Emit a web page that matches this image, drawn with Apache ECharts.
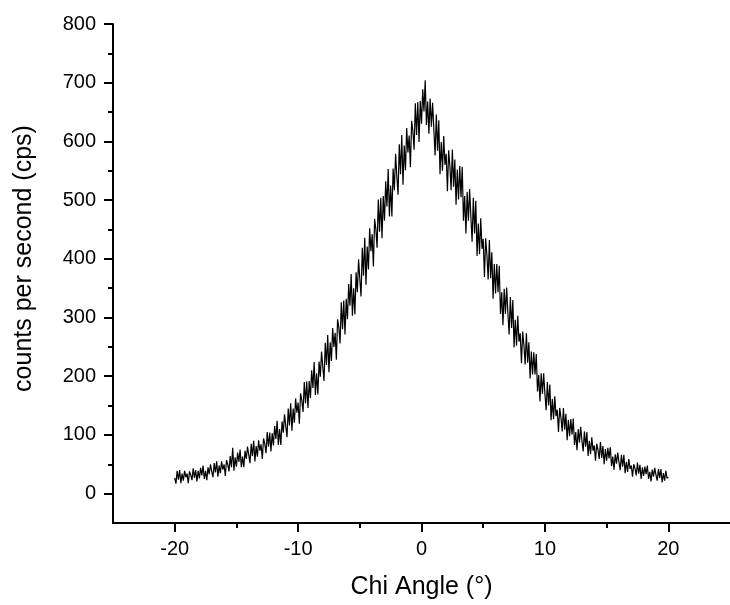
<!DOCTYPE html>
<html>
<head>
<meta charset="utf-8">
<script src="https://cdn.jsdelivr.net/npm/echarts@6/dist/echarts.min.js"></script>
<style>
html,body{margin:0;padding:0;background:#fff;}
#chart{width:730px;height:605px;}
</style>
</head>
<body>
<div id="chart"></div>
<script>
// Chi angle scan: first angle, step (degrees)
const angleStart = -20;
const angleStep = 0.1;
// counts per second, one row per degree (-20 ... 20)
const counts = [
  27, 17, 39, 24, 40, 18, 34, 22, 39, 28,
  34, 18, 38, 32, 23, 43, 27, 40, 21, 39,
  26, 44, 31, 48, 25, 39, 23, 45, 33, 50,
  38, 28, 52, 36, 55, 29, 48, 35, 55, 41,
  50, 30, 57, 50, 38, 64, 45, 78, 39, 62,
  46, 70, 54, 75, 45, 63, 45, 73, 59, 80,
  66, 52, 85, 64, 90, 55, 81, 63, 91, 73,
  84, 59, 94, 85, 69, 105, 80, 104, 72, 103,
  82, 115, 93, 124, 83, 110, 83, 123, 104, 135,
  115, 96, 145, 116, 154, 107, 145, 121, 162, 138,
  155, 119, 171, 159, 139, 190, 154, 191, 146, 192,
  163, 210, 180, 224, 168, 205, 169, 225, 199, 242,
  216, 192, 257, 219, 270, 207, 258, 226, 282, 250,
  274, 228, 297, 283, 256, 326, 280, 329, 271, 332,
  297, 357, 320, 374, 303, 350, 305, 377, 343, 399,
  366, 336, 419, 371, 436, 356, 421, 382, 452, 413,
  442, 387, 468, 451, 419, 501, 446, 504, 435, 507,
  465, 532, 489, 553, 472, 525, 472, 554, 517, 579,
  541, 509, 595, 544, 611, 526, 593, 551, 623, 581,
  610, 556, 635, 618, 586, 665, 611, 667, 599, 669,
  630, 689, 651, 704, 628, 668, 613, 673, 625, 666,
  620, 576, 646, 584, 636, 544, 599, 550, 609, 560,
  579, 515, 585, 558, 517, 586, 523, 569, 492, 552,
  501, 558, 505, 557, 465, 507, 443, 514, 465, 519,
  472, 429, 504, 443, 499, 405, 460, 408, 469, 417,
  434, 369, 435, 407, 365, 432, 367, 411, 332, 391,
  341, 391, 343, 388, 306, 343, 287, 349, 306, 351,
  308, 271, 335, 282, 330, 249, 296, 252, 303, 259,
  273, 222, 276, 253, 220, 273, 223, 258, 196, 242,
  203, 241, 203, 238, 174, 202, 157, 205, 170, 205,
  170, 142, 190, 150, 186, 125, 161, 127, 166, 132,
  143, 105, 146, 130, 106, 146, 109, 136, 91, 126,
  98, 127, 101, 128, 83, 105, 74, 110, 87, 114,
  90, 72, 106, 80, 105, 64, 90, 67, 96, 73,
  82, 56, 85, 75, 59, 88, 61, 81, 50, 76,
  56, 78, 60, 79, 47, 63, 41, 67, 51, 70,
  54, 40, 66, 46, 66, 35, 54, 37, 59, 42,
  48, 29, 50, 43, 31, 53, 34, 49, 25, 45,
  30, 46, 33, 48, 25, 37, 21, 41, 29, 44,
  32, 22, 42, 27, 42, 19, 35, 22, 39, 26,
  28
];
const xMajorTicks = [-20, -10, 0, 10, 20];
const xMinorTicks = [-15, -5, 5, 15];
const yMajorTicks = [0, 100, 200, 300, 400, 500, 600, 700, 800];
const yMinorTicks = [50, 150, 250, 350, 450, 550, 650, 750];

const seriesData = counts.map((c, i) => [+(angleStart + i * angleStep).toFixed(2), c]);

const FONT = '"Liberation Sans", Arial, sans-serif';
const chart = echarts.init(document.getElementById('chart'), null, {renderer: 'canvas'});
const lineStyle = {color: '#000', width: 2};
chart.setOption({
  animation: false,
  backgroundColor: '#fff',
  grid: {left: 113, top: 24, width: 622, height: 502, containLabel: false},
  xAxis: [{
    type: 'value', min: -25, max: 25, position: 'bottom',
    axisLine: {show: true, onZero: false, lineStyle: lineStyle},
    axisTick: {show: true, customValues: xMajorTicks, length: 9, lineStyle: lineStyle},
    axisLabel: {customValues: xMajorTicks, fontSize: 20, color: '#000', margin: 16, fontFamily: FONT},
    splitLine: {show: false},
    name: 'Chi Angle (°)', nameLocation: 'middle', nameGap: 52,
    nameTextStyle: {fontSize: 25, color: '#000', fontFamily: FONT}
  }, {
    type: 'value', min: -25, max: 25, position: 'bottom', offset: 0,
    axisLine: {show: false, onZero: false},
    axisTick: {show: true, customValues: xMinorTicks, length: 5, lineStyle: lineStyle},
    axisLabel: {show: false},
    splitLine: {show: false}
  }],
  yAxis: [{
    type: 'value', min: -50, max: 800, position: 'left',
    axisLine: {show: true, onZero: false, lineStyle: lineStyle},
    axisTick: {show: true, customValues: yMajorTicks, length: 9, lineStyle: lineStyle},
    axisLabel: {customValues: yMajorTicks, fontSize: 20, color: '#000', margin: 17, fontFamily: FONT},
    splitLine: {show: false},
    name: 'counts per second (cps)', nameLocation: 'middle', nameGap: 76,
    nameTextStyle: {fontSize: 25, color: '#000', fontFamily: FONT, padding: [0, 0, 0, 30]}
  }, {
    type: 'value', min: -50, max: 800, position: 'left', offset: 0,
    axisLine: {show: false, onZero: false},
    axisTick: {show: true, customValues: yMinorTicks, length: 5, lineStyle: lineStyle},
    axisLabel: {show: false},
    splitLine: {show: false}
  }],
  series: [{
    type: 'line',
    xAxisIndex: 0, yAxisIndex: 0,
    data: seriesData,
    showSymbol: false,
    symbol: 'none',
    sampling: null,
    lineStyle: {color: '#000', width: 1.2},
    silent: true
  }]
});
</script>
</body>
</html>
